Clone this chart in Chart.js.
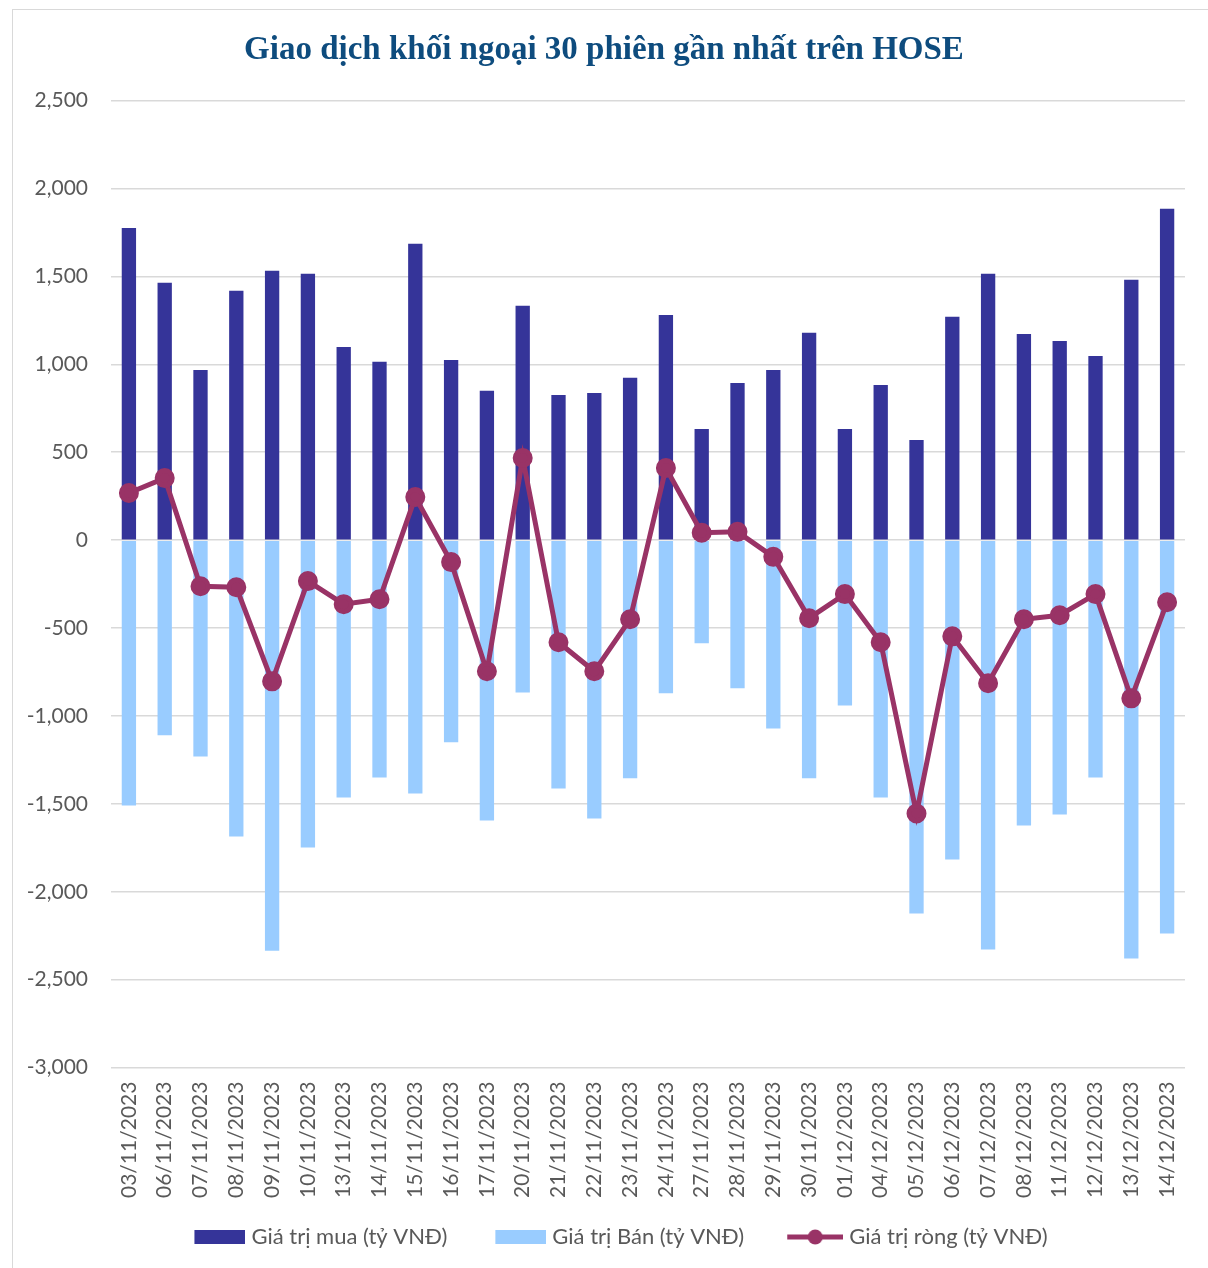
<!DOCTYPE html>
<html>
<head>
<meta charset="utf-8">
<script src="https://cdn.jsdelivr.net/npm/chart.js@4/dist/chart.umd.min.js"></script>
<style>
  html, body { margin: 0; padding: 0; background: #ffffff; }
  #box { position: absolute; left: 12px; top: 9px; width: 1196px; height: 1259px; border-left: 1px solid #d9d9d9; border-top: 1px solid #d9d9d9; box-sizing: border-box; }
  #wrap { position: absolute; left: 0; top: 0; width: 1195px; height: 1258px; }
</style>
</head>
<body>
<div id="box"><div id="wrap"><canvas id="c"></canvas></div></div>
<script>
const categories = ["03/11/2023","06/11/2023","07/11/2023","08/11/2023","09/11/2023","10/11/2023","13/11/2023","14/11/2023","15/11/2023","16/11/2023","17/11/2023","20/11/2023","21/11/2023","22/11/2023","23/11/2023","24/11/2023","27/11/2023","28/11/2023","29/11/2023","30/11/2023","01/12/2023","04/12/2023","05/12/2023","06/12/2023","07/12/2023","08/12/2023","11/12/2023","12/12/2023","13/12/2023","14/12/2023"];
const buyValues = [1775,1464,968,1418,1532,1515,1099,1014,1686,1025,849,1333,826,837,923,1281,632,894,968,1179,632,883,569,1270,1515,1173,1133,1048,1481,1885];
const sellValues = [-1509,-1110,-1230,-1686,-2335,-1748,-1464,-1350,-1441,-1150,-1595,-866,-1412,-1583,-1355,-871,-587,-843,-1071,-1355,-940,-1464,-2124,-1817,-2329,-1623,-1560,-1350,-2380,-2238];
const netValues = [268,353,-262,-268,-803,-233,-364,-336,245,-125,-746,467,-581,-746,-450,410,42,47,-95,-444,-307,-581,-1555,-547,-814,-450,-427,-307,-900,-353];
const seriesNames = ["Giá trị mua (tỷ VNĐ)","Giá trị Bán (tỷ VNĐ)","Giá trị ròng (tỷ VNĐ)"];
const titleText = "Giao dịch khối ngoại 30 phiên gần nhất trên HOSE";

const BUY = "#353499", SELL = "#99CCFF", NET = "#993366";

function makeIcon(kind) {
  const cv = document.createElement("canvas");
  cv.width = 90; cv.height = 22;
  const g = cv.getContext("2d");
  if (kind === "line") {
    g.strokeStyle = NET; g.lineWidth = 5;
    g.beginPath(); g.moveTo(34, 11); g.lineTo(90, 11); g.stroke();
    g.fillStyle = NET; g.beginPath(); g.arc(62, 11, 7.5, 0, Math.PI * 2); g.fill();
  } else {
    g.fillStyle = kind === "buy" ? BUY : SELL;
    g.fillRect(39, 4, 51, 14);
  }
  return cv;
}
const icons = [makeIcon("buy"), makeIcon("sell"), makeIcon("line")];

const FONT = "Lato, 'Open Sans', sans-serif";

new Chart(document.getElementById("c"), {
  data: {
    labels: categories,
    datasets: [
      { type: "line", label: seriesNames[2], data: netValues, borderColor: NET, backgroundColor: NET,
        borderWidth: 5, pointRadius: 7.5, pointHoverRadius: 7.5, pointBackgroundColor: NET, pointBorderColor: NET,
        tension: 0, stack: "net", order: 0 },
      { type: "bar", label: seriesNames[0], data: buyValues, backgroundColor: BUY, stack: "bars",
        barPercentage: 0.4, categoryPercentage: 1.0, order: 1 },
      { type: "bar", label: seriesNames[1], data: sellValues, backgroundColor: SELL, stack: "bars",
        barPercentage: 0.4, categoryPercentage: 1.0, order: 1 }
    ]
  },
  options: {
    responsive: true,
    maintainAspectRatio: false,
    animation: false,
    layout: { padding: { left: 0, right: 13, top: 14, bottom: 10 } },
    plugins: {
      title: { display: true, text: titleText, color: "#0E4C7E",
        font: { family: "'Liberation Serif', 'DejaVu Serif', serif", size: 33, weight: "bold" },
        padding: { top: 7, bottom: 30 } },
      legend: { position: "bottom",
        labels: {
          usePointStyle: true, pointStyleWidth: 80, boxHeight: 22, padding: 14,
          color: "#595959", font: { family: FONT, size: 22 },
          generateLabels: function(chart) {
            const order = [1, 2, 0];
            return order.map((di, i) => ({
              text: chart.data.datasets[di].label,
              pointStyle: icons[i],
              fillStyle: "transparent", strokeStyle: "transparent", lineWidth: 0,
              fontColor: "#595959",
              datasetIndex: di, hidden: false
            }));
          }
        }
      },
      tooltip: { enabled: false }
    },
    scales: {
      x: { stacked: true,
        grid: { display: false, drawTicks: false },
        border: { display: false },
        ticks: { maxRotation: 90, minRotation: 90, autoSkip: false, color: "#595959",
          font: { family: FONT, size: 21 }, padding: 14 } },
      y: { stacked: true, min: -3000, max: 2500,
        afterFit: s => { s.width = 98; },
        grid: { color: "#d9d9d9", lineWidth: 1.5, drawTicks: false },
        border: { display: false },
        ticks: { stepSize: 500, color: "#595959", padding: 23,
          font: { family: FONT, size: 21 },
          callback: v => v.toLocaleString("en-US") } },
      y2: { type: "linear", position: "right", display: true,
        afterFit: s => { s.width = 10; },
        grid: { display: false, drawTicks: false },
        border: { display: false },
        ticks: { display: false } }
    }
  }
});
</script>
</body>
</html>
